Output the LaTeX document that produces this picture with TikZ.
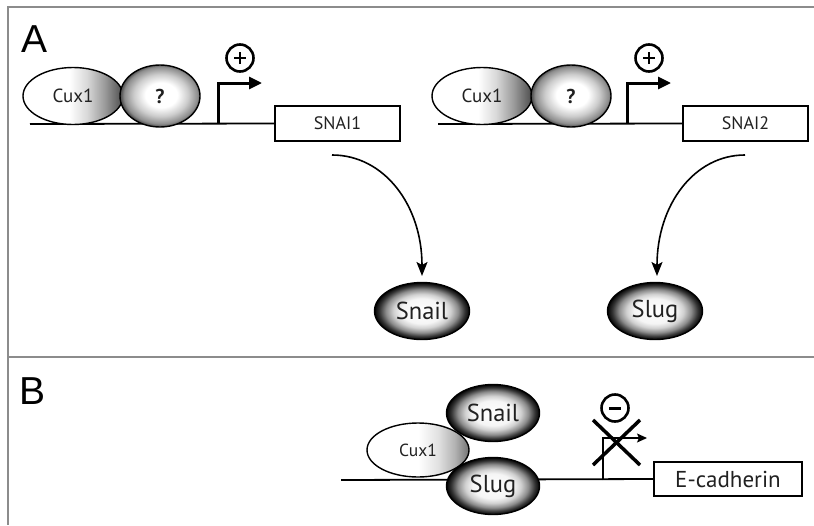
\documentclass[tikz,border=0pt]{standalone}
\usepackage{fontspec}
\setmainfont{PT Sans}
\newfontfamily\panelfont{Liberation Sans}
\usetikzlibrary{shapes.geometric,arrows.meta}
\pgfdeclareradialshading{darkprot}{\pgfpoint{0bp}{0bp}}{color(0bp)=(white); color(11bp)=(white!96!black); color(15bp)=(white!82!black); color(19bp)=(black!45); color(22.5bp)=(black!80); color(24.5bp)=(black!95); color(25bp)=(black); color(50bp)=(black)}
\pgfdeclareradialshading{qprot}{\pgfpoint{1bp}{1bp}}{color(0bp)=(white); color(10bp)=(white); color(17bp)=(white!80!black); color(23bp)=(black!45); color(25bp)=(black!68); color(50bp)=(black!68)}
\pgfdeclarehorizontalshading{cuxA}{100bp}{color(0bp)=(white); color(48bp)=(white); color(57bp)=(white!85!black); color(66bp)=(black!40); color(75bp)=(black!70); color(100bp)=(black!70)}
\pgfdeclarehorizontalshading{cuxB}{100bp}{color(0bp)=(white); color(50bp)=(white); color(60bp)=(white!88!black); color(68bp)=(black!30); color(75bp)=(black!55); color(100bp)=(black!55)}
\definecolor{framegray}{gray}{0.55}
\definecolor{txt}{gray}{0.13}
\tikzset{
  prot/.style={ellipse, draw=black, line width=1.4pt, inner sep=0pt, text=txt},
  darkp/.style={prot, shading=darkprot, minimum width=95pt, minimum height=57pt, font=\fontsize{24.5}{26}\selectfont},
  qp/.style={prot, shading=qprot, minimum width=80pt, minimum height=62pt, font=\bfseries\fontsize{20}{22}\selectfont},
  cuxa/.style={prot, shading=cuxA, minimum width=100pt, minimum height=57pt, font=\fontsize{19}{21}\selectfont},
  cuxb/.style={prot, shading=cuxB, minimum width=102pt, minimum height=54pt, font=\fontsize{17.5}{19}\selectfont},
  genebox/.style={draw=black, line width=1.6pt, fill=white, inner sep=0pt, text=txt},
  dna/.style={line width=1.8pt},
  frameline/.style={draw=framegray, line width=1.3pt},
  signcirc/.style={circle, draw=black, line width=2.6pt, minimum size=27pt, inner sep=0pt},
  bigarrow/.style={line width=1.6pt, -{Stealth[length=14pt,width=11pt,inset=3pt]}},
  panel/.style={font=\panelfont\fontsize{39}{40}\selectfont, anchor=base, inner sep=0pt}
}
\begin{document}
\begin{tikzpicture}[x=1pt,y=-1pt]
\useasboundingbox[fill=white] (0,0) rectangle (814,525);
% frame
\coordinate (tl) at (8,7);
\coordinate (tr) at (814,7);
\coordinate (bl) at (8,525);
\coordinate (ml) at (8,357);
\coordinate (mr) at (814,357);
\draw[frameline] (tr) -- (tl) -- (bl);
\draw[frameline] (ml) -- (mr);
\node[panel] (labA) at (34.5,52) {A};
\node[panel] (labB) at (32.5,404) {B};

% ---- Panel A left
\node[genebox, minimum width=125pt, minimum height=35pt, font=\fontsize{18}{20}\selectfont] (snai1) at (337.5,123.5) {SNAI1};
\coordinate (dna1s) at (30,124);
\draw[dna] (dna1s) -- (snai1.west);
\node[cuxa] (cux1a) at (73,96) {Cux1};
\node[qp] (qa) at (160,96) {?};
\coordinate (p1a) at (218,124);
\coordinate (p1b) at (218,83);
\coordinate (p1c) at (262,83);
\draw[line width=3pt, line join=miter, -{Triangle[length=13pt,width=12pt]}] (p1a) -- (p1b) -- (p1c);
\node[signcirc] (plus1) at (240,58) {};
\draw[line width=2.2pt] ([xshift=-6pt]plus1.center) -- ([xshift=6pt]plus1.center);
\draw[line width=2.2pt] ([yshift=-6pt]plus1.center) -- ([yshift=6pt]plus1.center);

% ---- Panel A right
\node[genebox, minimum width=125pt, minimum height=35pt, font=\fontsize{18}{20}\selectfont] (snai2) at (745.5,123.5) {SNAI2};
\coordinate (dna2s) at (438,124);
\draw[dna] (dna2s) -- (snai2.west);
\node[cuxa] (cux1b) at (482,96) {Cux1};
\node[qp] (qb) at (571,96) {?};
\coordinate (p2a) at (627,124);
\coordinate (p2b) at (627,83);
\coordinate (p2c) at (671,83);
\draw[line width=3pt, line join=miter, -{Triangle[length=13pt,width=12pt]}] (p2a) -- (p2b) -- (p2c);
\node[signcirc] (plus2) at (649,58) {};
\draw[line width=2.2pt] ([xshift=-6pt]plus2.center) -- ([xshift=6pt]plus2.center);
\draw[line width=2.2pt] ([yshift=-6pt]plus2.center) -- ([yshift=6pt]plus2.center);

% products
\node[darkp] (snailA) at (422,311) {Snail};
\node[darkp] (slugA) at (655,311) {Slug};
\coordinate (c1s) at (332,155);
\coordinate (c1e) at (422,276);
\coordinate (c2s) at (745,155);
\coordinate (c2e) at (657,276);
\draw[bigarrow] (c1s) .. controls (384,155) and (422,205) .. (c1e);
\draw[bigarrow] (c2s) .. controls (694,155) and (657,205) .. (c2e);

% ---- Panel B
\node[genebox, minimum width=148pt, minimum height=34pt, font=\fontsize{23}{25}\selectfont] (ecad) at (728,479) {E-cadherin};
\coordinate (dna3s) at (341,480);
\draw[dna] (dna3s) -- (ecad.west);
\node[cuxb] (cux1c) at (418,450) {Cux1};
\node[darkp, minimum width=93pt] (snailB) at (493,413) {Snail};
\node[darkp, minimum width=93pt] (slugB) at (493,486) {Slug};
\coordinate (p3a) at (603,480);
\coordinate (p3b) at (603,438);
\coordinate (p3c) at (647,438);
\draw[line width=1.3pt, line join=miter, -{Stealth[length=10pt,width=9pt,inset=2pt]}] (p3a) -- (p3b) -- (p3c);
\coordinate (x1) at (593,420);
\coordinate (x2) at (640,465);
\coordinate (x3) at (593,465);
\coordinate (x4) at (640,420);
\draw[line width=3.5pt] (x1) -- (x2);
\draw[line width=3.5pt] (x3) -- (x4);
\node[signcirc, fill=white] (minus) at (615,408) {};
\draw[line width=3pt] ([xshift=-6pt]minus.center) -- ([xshift=6pt]minus.center);
\end{tikzpicture}
\end{document}
